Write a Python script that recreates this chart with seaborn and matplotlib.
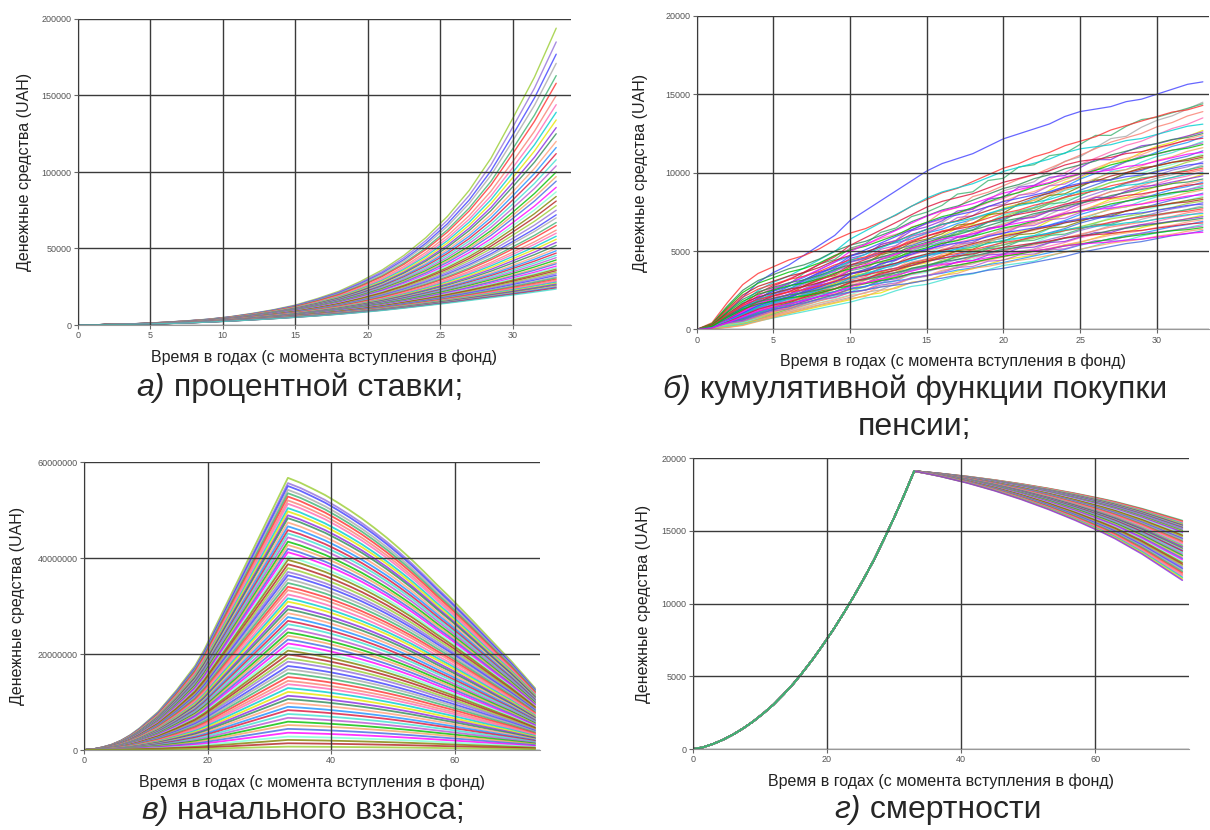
import matplotlib
matplotlib.use('Agg')
import matplotlib.pyplot as plt
import seaborn as sns
import pandas as pd
import numpy as np

sns.set_style('white')
plt.rcParams['font.family'] = ['Liberation Sans', 'DejaVu Sans']

W, H = 1210, 830

COLORS = ['#9acd32', '#9370db', '#4040ff', '#a9a9a9', '#3cb371', '#ff3030',
          '#fa8072', '#ff69b4', '#00ced1', '#e6e600', '#8a2be2', '#2e8b57',
          '#ffa07a', '#1e90ff', '#dc143c', '#40e0d0', '#ba55d3', '#00c000',
          '#f4a460', '#4169e1', '#ff00ff', '#7fffd4', '#808000', '#b22222']

# ---- a) interest rate: lowest and highest curves, plus end values
a_years = [0, 1.5, 3, 4.5, 6, 7.5, 9, 10.5, 12, 13.5, 15, 16.5, 18, 19.5, 21, 22.5,
           24, 25.5, 27, 28.5, 30, 31.5, 33]
a_bottom = [0, 150, 350, 600, 900, 1350, 1900, 2550, 3300, 4100, 5000, 5950, 7000,
            8200, 9500, 11000, 12600, 14250, 16000, 17800, 19600, 21500, 23500]
a_top = [0, 200, 500, 1050, 1800, 2700, 3800, 5400, 7500, 10000, 13000, 17200, 22000,
         28500, 36000, 45500, 57000, 71000, 88000, 109000, 135000, 162000, 194000]
a_final = [194000, 185000, 177000, 171000, 163000, 158000, 150000, 144000, 139000,
           134000, 129000, 125000, 120000, 116000, 112000, 108000, 104000, 100000,
           97000, 94000, 90000, 87000, 84000, 81000, 78000, 75000, 72000, 70000,
           67000, 65000, 62000, 60000, 58000, 56000, 54000, 52000, 50000, 48500,
           47000, 45500, 44000, 42500, 41000, 40000, 38500, 37500, 36500, 35500,
           34500, 33500, 32500, 31500, 30800, 30000, 29300, 28600, 28000, 27300,
           26700, 26000, 25400, 24800, 24200, 23500]

# ---- b) cumulative pension purchase: shape profiles (share of final value) per year
b_years = list(range(34))
b_profiles = [
    [0, .015, .07, .13, .19, .23, .26, .30, .34, .38, .44, .48, .52, .56, .60, .64, .67,
     .69, .71, .74, .77, .79, .81, .83, .86, .88, .89, .90, .92, .93, .95, .97, .99, 1.0],
    [0, .01, .03, .05, .08, .11, .14, .17, .20, .23, .26, .30, .32, .37, .41, .43, .47,
     .51, .53, .57, .61, .63, .65, .70, .74, .76, .80, .84, .85, .89, .92, .94, .97, 1.0],
    [0, .02, .06, .08, .13, .18, .20, .25, .29, .31, .36, .38, .43, .45, .50, .52, .55,
     .60, .61, .66, .67, .72, .73, .77, .78, .82, .86, .86, .90, .93, .94, .96, .98, 1.0],
    [0, .03, .12, .20, .25, .28, .31, .33, .36, .40, .43, .45, .48, .51, .55, .58, .61,
     .63, .66, .69, .72, .74, .77, .79, .82, .84, .86, .89, .91, .93, .95, .97, .98, 1.0],
    [0, .01, .02, .04, .08, .12, .16, .20, .24, .27, .31, .33, .39, .41, .47, .49, .54,
     .56, .61, .63, .66, .69, .71, .74, .77, .80, .83, .86, .88, .90, .93, .95, .98, 1.0],
    [0, .02, .07, .11, .16, .20, .24, .27, .31, .35, .38, .40, .43, .45, .47, .50, .52,
     .55, .57, .60, .62, .65, .68, .71, .74, .78, .81, .84, .87, .89, .92, .95, .97, 1.0],
]
b_final = [15800, 14500, 14400, 14300, 13900, 13500, 13100, 12700, 12600, 12500, 12400,
           12300, 12200, 12000, 11900, 11800, 11600, 11400, 11300, 11200, 11100, 11000,
           10900, 10700, 10600, 10500, 10400, 10300, 10200, 10100, 10000, 9900, 9800,
           9600, 9500, 9400, 9300, 9200, 9100, 9000, 8900, 8700, 8600, 8500, 8400, 8300,
           8200, 8100, 8000, 7900, 7800, 7700, 7600, 7500, 7400, 7300, 7200, 7100, 7000,
           6900, 6800, 6700, 6600, 6500, 6400, 6300, 6200]

# ---- c) initial contribution: profile (share of peak) and peak values in millions
c_years = [0, 1.5, 3, 4.5, 6, 7.5, 9, 10.5, 12, 13.5, 15, 16.5, 18, 19.5, 21, 22.5, 24,
           25.5, 27, 28.5, 30, 31.5, 33, 35, 37, 39, 41, 43, 45, 47, 49, 51, 53, 55, 57,
           59, 61, 63, 65, 67, 69, 71, 73]
c_profile = [0, .003, .01, .02, .035, .055, .08, .11, .14, .18, .22, .265, .31, .37, .44,
             .51, .58, .65, .72, .79, .86, .93, 1.0, .982, .96, .937, .91, .881, .85, .816,
             .78, .741, .70, .656, .61, .566, .52, .473, .425, .377, .33, .279, .227]
c_peak = [56.7, 55.6, 55.0, 54.2, 53.5, 52.8, 52.0, 51.3, 50.4, 49.7, 48.9, 48.3, 47.4,
          46.6, 45.8, 45.1, 44.3, 43.4, 42.7, 41.9, 41.2, 40.3, 39.6, 38.7, 37.9, 37.1,
          36.4, 35.6, 34.8, 34.0, 33.3, 32.4, 31.6, 30.9, 30.0, 29.3, 28.5, 27.7, 26.9,
          26.2, 25.3, 24.5, 23.8, 23.0, 22.2, 21.4, 20.7, 19.9, 19.1, 18.4, 17.5, 16.8,
          16.0, 15.2, 14.4, 13.7, 12.9, 12.1, 11.3, 10.6, 9.8, 9.0, 8.3, 7.5, 6.7, 5.9,
          5.2, 4.4, 3.6, 2.8, 2.1, 1.4, 0.7]

# ---- d) mortality: common rise, then decline share and final values
d_rise_years = [0, 1.5, 3, 4.5, 6, 7.5, 9, 10.5, 12, 13.5, 15, 16.5, 18, 19.5, 21, 22.5,
                24, 25.5, 27, 28.5, 30, 31.5, 33]
d_rise = [0, 120, 350, 640, 1000, 1420, 1900, 2450, 3050, 3750, 4500, 5350, 6250, 7230,
          8250, 9350, 10500, 11720, 13000, 14420, 15900, 17450, 19100]
d_fall_years = [33, 35, 37, 39, 41, 43, 45, 47, 49, 51, 53, 55, 57, 59, 61, 63, 65, 67,
                69, 71, 73]
d_fall_share = [0, .024, .05, .08, .11, .145, .18, .22, .26, .305, .35, .40, .45, .505,
                .56, .62, .69, .76, .84, .92, 1.0]
d_final = [15700, 15650, 15600, 15550, 15500, 15450, 15400, 15350, 15300, 15250, 15200,
           15150, 15100, 15000, 14950, 14900, 14850, 14800, 14700, 14650, 14600, 14500,
           14450, 14400, 14300, 14250, 14200, 14100, 14000, 13950, 13900, 13800, 13700,
           13650, 13600, 13500, 13400, 13300, 13200, 13100, 13000, 12900, 12800, 12700,
           12600, 12500, 12400, 12300, 12200, 12100, 12000, 11900, 11800, 11700, 11600]


def to_frame(years, curves):
    rows = []
    for i, vals in enumerate(curves):
        for t, v in zip(years, vals):
            rows.append({'t': t, 'v': v, 'curve': f'c{i:03d}'})
    return pd.DataFrame(rows)


def palette_for(n, shift=0):
    return {f'c{i:03d}': COLORS[(i + shift) % len(COLORS)] for i in range(n)}


# build curves
bot, top = np.array(a_bottom, float), np.array(a_top, float)
a_curves = []
for e in a_final:
    w = np.log(e / bot[-1]) / np.log(top[-1] / bot[-1])
    v = np.zeros_like(bot)
    v[1:] = bot[1:] ** (1 - w) * top[1:] ** w
    a_curves.append(v)

b_curves = []
for i, e in enumerate(b_final):
    b_curves.append(np.array(b_profiles[i % len(b_profiles)]) * e)

c_curves = [np.array(c_profile) * p * 1e6 for p in c_peak]

d_years = d_rise_years + d_fall_years[1:]
d_curves = []
for e in d_final:
    fall = d_rise[-1] - (d_rise[-1] - e) * np.array(d_fall_share)
    d_curves.append(list(d_rise) + list(fall[1:]))

fig = plt.figure(figsize=(W / 100, H / 100), dpi=100)


def place(l, r, t, b):
    return fig.add_axes([l / W, 1 - b / H, (r - l) / W, (b - t) / H])


def style(ax, xlim, xticks, ylim, yticks, ylab_px):
    ax.set_xlim(*xlim)
    ax.set_ylim(*ylim)
    ax.set_xticks(xticks)
    ax.set_yticks(yticks)
    ax.set_xticklabels([str(x) for x in xticks])
    ax.set_yticklabels([str(int(y)) for y in yticks])
    ax.set_axisbelow(False)
    ax.grid(True, color='#3a3a3a', lw=1.0)
    for s in ['top', 'right']:
        ax.spines[s].set_visible(False)
    ax.spines['left'].set_color('#555555')
    ax.spines['bottom'].set_color('#999999')
    ax.tick_params(labelsize=6.5, colors='#666666', length=3, width=0.8,
                   bottom=True, left=True, pad=1.5)
    for lab in ax.get_xticklabels() + ax.get_yticklabels():
        lab.set_color('#555555')
    ax.set_xlabel('Время в годах (с момента вступления в фонд)', fontsize=11.5, color='#222222')
    ax.set_ylabel('Денежные средства (UAH)', fontsize=11.5, color='#222222')
    bb = ax.get_position()
    wpx, hpx = bb.width * W, bb.height * H
    ax.yaxis.set_label_coords(ylab_px / wpx, 0.5)
    ax.xaxis.set_label_coords(0.5, -24 / hpx)


ax_a = place(77.7, 570.7, 19, 325)
sns.lineplot(data=to_frame(a_years, a_curves), x='t', y='v', hue='curve',
             palette=palette_for(len(a_curves)), legend=False, ax=ax_a, lw=1, alpha=0.8)
style(ax_a, (0, 34), range(0, 31, 5), (0, 200000), range(0, 200001, 50000), -46)

ax_b = place(696.7, 1209, 16, 329.5)
sns.lineplot(data=to_frame(b_years, b_curves), x='t', y='v', hue='curve',
             palette=palette_for(len(b_curves), 2), legend=False, ax=ax_b, lw=0.9, alpha=0.8)
style(ax_b, (0, 33.4), range(0, 31, 5), (0, 20000), range(0, 20001, 5000), -49)

ax_c = place(84, 540, 462, 750)
sns.lineplot(data=to_frame(c_years, c_curves), x='t', y='v', hue='curve',
             palette=palette_for(len(c_curves)), legend=False, ax=ax_c, lw=1.3, alpha=0.8)
style(ax_c, (0, 73.8), [0, 20, 40, 60], (0, 60000000), range(0, 60000001, 20000000), -59)

ax_d = place(693, 1189, 458, 749)
sns.lineplot(data=to_frame(d_years, d_curves), x='t', y='v', hue='curve',
             palette=palette_for(len(d_curves), 4), legend=False, ax=ax_d, lw=1.2, alpha=0.8)
sns.lineplot(x=d_rise_years, y=d_rise, color='#3cb371', lw=1.4, ax=ax_d)
style(ax_d, (0, 74), [0, 20, 40, 60], (0, 20000), range(0, 20001, 5000), -42)

renderer = fig.canvas.get_renderer()


def caption(xc, yc, mark, rest):
    t1 = fig.text(0, 0, mark, fontsize=23, style='italic', va='center', ha='left')
    t2 = fig.text(0, 0, ' ' + rest, fontsize=23, va='center', ha='left')
    w1 = t1.get_window_extent(renderer).width
    w2 = t2.get_window_extent(renderer).width
    x0 = xc - (w1 + w2) / 2
    t1.set_position((x0 / W, 1 - yc / H))
    t2.set_position(((x0 + w1) / W, 1 - yc / H))


caption(300, 388, 'а)', 'процентной ставки;')
caption(915, 390, 'б)', 'кумулятивной функции покупки')
fig.text(915 / W, 1 - 427 / H, 'пенсии;', fontsize=23, va='center', ha='center')
caption(303, 811, 'в)', 'начального взноса;')
caption(938, 810, 'г)', 'смертности')

fig.savefig('out.png', dpi=100)
